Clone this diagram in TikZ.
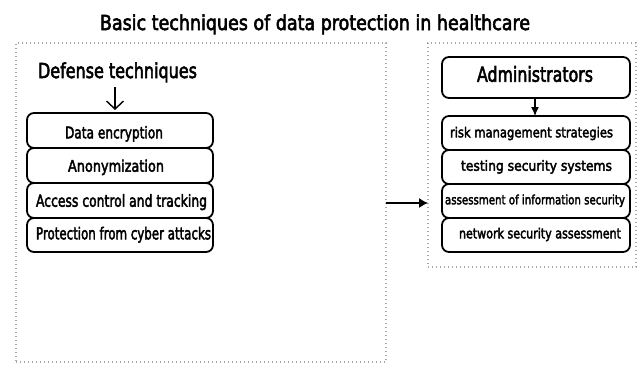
\documentclass[tikz,border=0pt]{standalone}
\usepackage{fontspec}
\setmainfont{DejaVu Sans}
\newfontface\fbface{DejaVu Sans}[FakeBold=3]
\usetikzlibrary{arrows.meta}
\newcommand\fitt[3]{\resizebox{#1}{\height}{\fbface\fontsize{#2}{#2}\selectfont #3}}
\begin{document}
\begin{tikzpicture}[x=1pt,y=-1pt,
  dotbox/.style={draw=gray!70, line width=1.2pt, dash pattern=on 1.2pt off 2.8pt, inner sep=0pt, outer sep=0pt},
  rbox/.style={draw=black, line width=1.8pt, rounded corners=7pt, inner sep=0pt, outer sep=0pt, minimum width=186pt},
  lbl/.style={inner sep=0pt, outer sep=0pt, anchor=base},
  conn/.style={line width=1.2pt}
]
\useasboundingbox (0,0) rectangle (638,365);
% dotted containers
\node[dotbox, minimum width=370pt, minimum height=319pt] (L) at (201,202.5) {};
\node[dotbox, minimum width=208pt, minimum height=224pt] (R) at (532,155) {};
% title
\node[lbl] (title) at (315,30) {\fitt{430pt}{20.6}{Basic techniques of data protection in healthcare}};
% left column
\node[lbl] (def) at (117.5,78) {\fitt{159pt}{20.6}{Defense techniques}};
\node[rbox, minimum height=35pt] (d1) at (120,130.5) {};
\node[rbox, minimum height=35pt] (d2) at (120,165.5) {};
\node[rbox, minimum height=35pt] (d3) at (120,200.5) {};
\node[rbox, minimum height=34pt] (d4) at (120,235) {};
\node[lbl] (t1) at (114,138.3) {\fitt{98pt}{16}{Data encryption}};
\node[lbl] (t2) at (116,171.7) {\fitt{96pt}{16}{Anonymization}};
\node[lbl] (t3) at (121.5,206.7) {\fitt{171pt}{16.5}{Access control and tracking}};
\node[lbl] (t4) at (123.5,239.3) {\fitt{175pt}{16.5}{Protection from cyber attacks}};
% right column
\node[rbox, minimum width=188pt, minimum height=41pt] (adm) at (536,77.5) {};
\node[lbl] (admt) at (535,81.7) {\fitt{116pt}{20.6}{Administrators}};
\node[rbox, minimum width=188pt, minimum height=34pt] (r1) at (536,133) {};
\node[rbox, minimum width=188pt, minimum height=34pt] (r2) at (536,167) {};
\node[rbox, minimum width=188pt, minimum height=34pt] (r3) at (536,201) {};
\node[rbox, minimum width=188pt, minimum height=34pt] (r4) at (536,235) {};
\node[lbl] (s1) at (531.5,137.3) {\fitt{163pt}{13.8}{risk management strategies}};
\node[lbl] (s2) at (536.5,170.7) {\fitt{151pt}{14}{testing security systems}};
\node[lbl] (s3) at (535,204.3) {\fitt{180pt}{12.8}{assessment of information security}};
\node[lbl] (s4) at (540,238.3) {\fitt{162pt}{13.8}{network security assessment}};
% connectors
\coordinate (ax) at (115,87);
\draw[conn, line width=1.4pt, -{Straight Barb[length=8pt,width=17pt]}] (ax) -- ([yshift=3pt]ax |- d1.north);
\coordinate (bx) at (535,0);
\draw[conn, -{Latex[length=9pt,width=8pt]}] (bx |- adm.south) -- (bx |- r1.north);
\coordinate (ay) at (0,203);
\draw[conn, -{Latex[length=9pt,width=10pt]}] (L.east |- ay) -- (R.west |- ay);
\end{tikzpicture}
\end{document}
